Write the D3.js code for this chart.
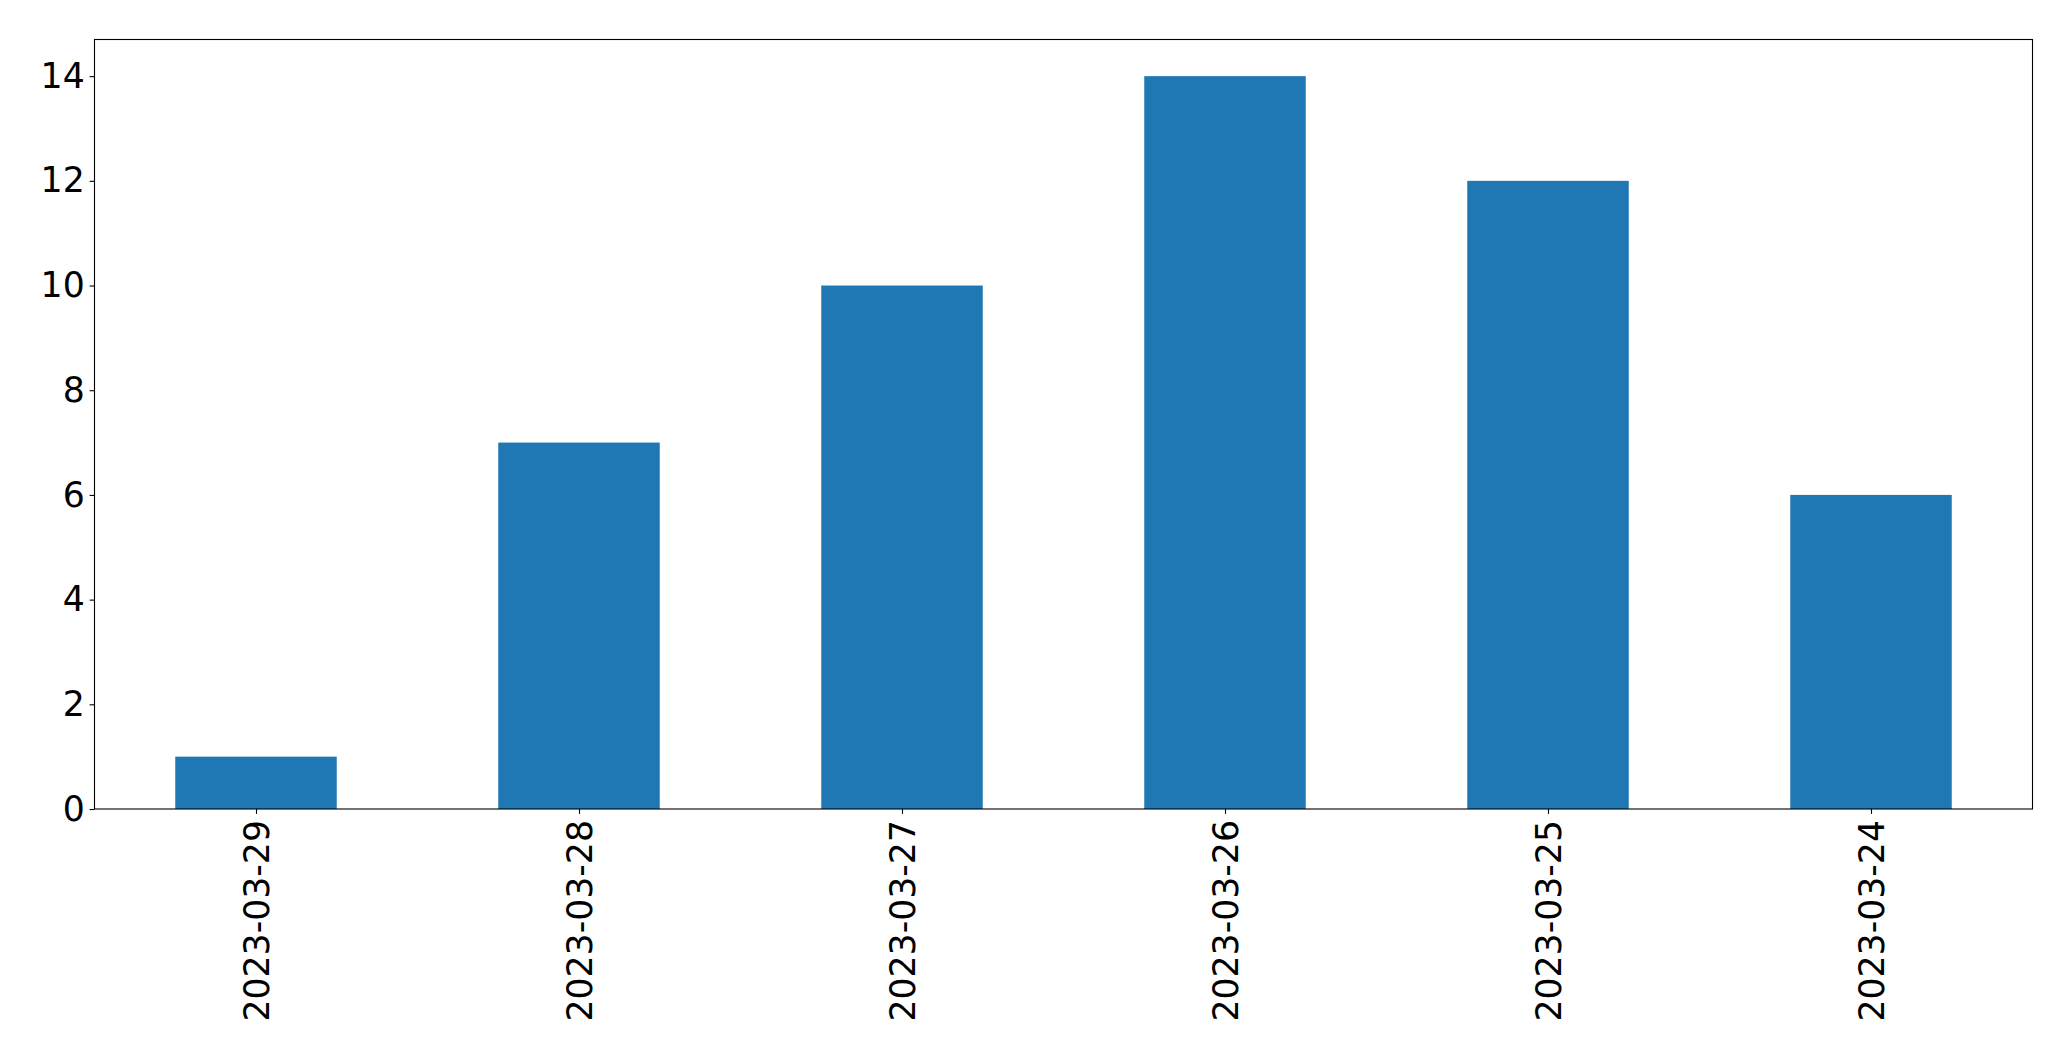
<!DOCTYPE html>
<html><head><meta charset="utf-8">
<script src="https://cdn.jsdelivr.net/npm/d3@7"></script>
<style>body{margin:0;background:#fff}svg{display:block}</style>
</head><body>
<script>
const categories = ["2023-03-29","2023-03-28","2023-03-27","2023-03-26","2023-03-25","2023-03-24"];
const values = [1, 7, 10, 14, 12, 6];
const yTicks = [0, 2, 4, 6, 8, 10, 12, 14];

const W = 2071, H = 1061;
const m = {left: 94.5, top: 39.5, right: 2032.5, bottom: 809};
const svg = d3.select("body").append("svg").attr("width", W).attr("height", H);

const x = d3.scaleLinear().domain([-0.5, categories.length - 0.5]).range([m.left, m.right]);
const y = d3.scaleLinear().domain([0, 14.7]).range([m.bottom, m.top]);
const font = "DejaVu Sans";

svg.append("g").selectAll("rect").data(values).join("rect")
  .attr("x", (d, i) => x(i - 0.25)).attr("width", (d, i) => x(i + 0.25) - x(i - 0.25))
  .attr("y", d => y(d)).attr("height", d => y(0) - y(d))
  .attr("fill", "#1f77b4");

const yAxis = svg.append("g").attr("transform", `translate(${m.left},0)`)
  .call(d3.axisLeft(y).tickValues(yTicks).tickFormat(d3.format("d")).tickSize(4.9).tickPadding(4.9));
yAxis.select(".domain").remove();
yAxis.selectAll("line").attr("stroke", "#000").attr("stroke-width", 1.1);
yAxis.selectAll("text").attr("font-family", font).attr("font-size", "34.7px").attr("fill", "#000");

const xAxis = svg.append("g").attr("transform", `translate(0,${m.bottom})`)
  .call(d3.axisBottom(x).tickValues(d3.range(categories.length)).tickFormat(i => categories[i]).tickSize(4.9).tickPadding(4.9));
xAxis.select(".domain").remove();
xAxis.selectAll("line").attr("stroke", "#000").attr("stroke-width", 1.1);
xAxis.selectAll("text").attr("font-family", font).attr("font-size", "34.7px").attr("fill", "#000")
  .attr("transform", "rotate(-90)").attr("text-anchor", "end")
  .attr("x", -11).attr("y", 0).attr("dy", "0.35em");

svg.append("rect").attr("x", m.left).attr("y", m.top)
  .attr("width", m.right - m.left).attr("height", m.bottom - m.top)
  .attr("fill", "none").attr("stroke", "#000").attr("stroke-width", 1.1);
</script>
</body></html>
